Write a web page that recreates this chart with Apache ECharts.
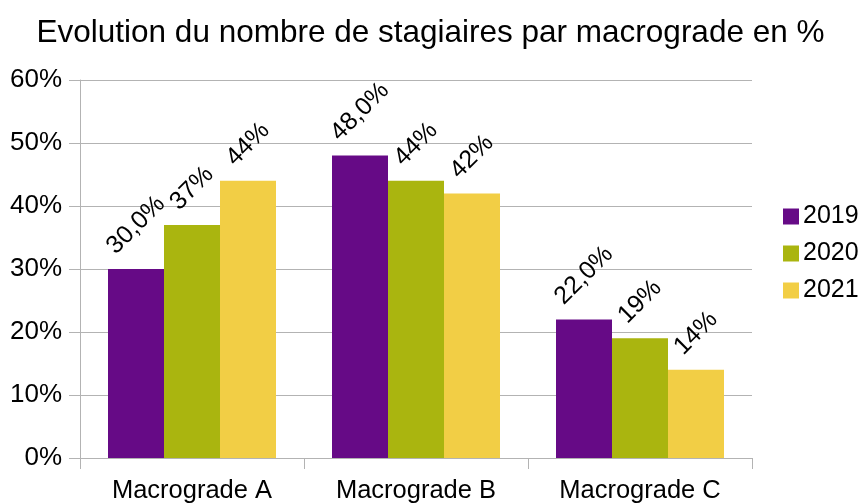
<!DOCTYPE html>
<html>
<head>
<meta charset="utf-8">
<script src="https://cdn.jsdelivr.net/npm/echarts@6/dist/echarts.min.js"></script>
<style>
html,body{margin:0;padding:0;background:#fff;}
#c{width:861px;height:504px;}
</style>
</head>
<body>
<div id="c"></div>
<script>
var categories = ['Macrograde A', 'Macrograde B', 'Macrograde C'];
var seriesNames = ['2019', '2020', '2021'];
var values2019 = [30, 48, 22];
var values2020 = [37, 44, 19];
var values2021 = [44, 42, 14];
var labelDecimals = [1, 0, 0];
var yTicks = [0, 10, 20, 30, 40, 50, 60];
var colors = ['#660a86', '#aab50f', '#f2ce45'];

var FONT = 'Liberation Sans';
var LFS = 25;
var ctx = document.createElement('canvas').getContext('2d');
ctx.font = LFS + 'px "' + FONT + '"';
function fmt(v, d) { return v.toFixed(d).replace('.', ',') + '%'; }
function dist(txt) {
  var w = ctx.measureText(txt).width;
  return 10 + (w / 2 + LFS / 2) * Math.SQRT1_2;
}

var allValues = [values2019, values2020, values2021];
var series = allValues.map(function (vals, i) {
  return {
    name: seriesNames[i],
    type: 'bar',
    barGap: '0%',
    barCategoryGap: '25%',
    itemStyle: { color: colors[i] },
    data: vals.map(function (v) {
      var t = fmt(v, labelDecimals[i]);
      return {
        value: v,
        label: { distance: dist(t) }
      };
    }),
    label: {
      show: true,
      position: 'top',
      rotate: 45,
      align: 'center',
      verticalAlign: 'middle',
      fontFamily: FONT,
      fontSize: LFS,
      color: '#000',
      formatter: function (p) { return fmt(p.value, labelDecimals[i]); }
    }
  };
});

var chart = echarts.init(document.getElementById('c'), null, { renderer: 'canvas' });
chart.setOption({
  animation: false,
  textStyle: { fontFamily: FONT },
  title: {
    text: 'Evolution du nombre de stagiaires par macrograde en %',
    left: 'center',
    top: 12,
    textStyle: { fontFamily: FONT, fontSize: 31.5, fontWeight: 'normal', color: '#000' }
  },
  legend: {
    orient: 'vertical',
    left: 778,
    top: 199,
    itemWidth: 16,
    itemHeight: 16,
    itemGap: 12,
    icon: 'rect',
    data: seriesNames,
    textStyle: { fontFamily: FONT, fontSize: 25, color: '#000', padding: [0, 0, 0, -1] }
  },
  grid: { left: 80, right: 109, top: 80, bottom: 46, containLabel: false },
  xAxis: {
    type: 'category',
    data: categories,
    axisLine: { lineStyle: { color: '#b3b3b3' } },
    axisTick: { show: true, length: 11, alignWithLabel: false, lineStyle: { color: '#b3b3b3' } },
    axisLabel: { fontFamily: FONT, fontSize: 25.5, color: '#000', margin: 20 }
  },
  yAxis: {
    type: 'value',
    min: yTicks[0],
    max: yTicks[yTicks.length - 1],
    interval: yTicks[1] - yTicks[0],
    axisLine: { show: true, lineStyle: { color: '#b3b3b3' } },
    axisTick: { show: true, length: 11, lineStyle: { color: '#b3b3b3' } },
    splitLine: { lineStyle: { color: '#b3b3b3' } },
    axisLabel: { fontFamily: FONT, fontSize: 26, color: '#000', margin: 18, formatter: '{value}%' }
  },
  series: series
});
</script>
</body>
</html>
